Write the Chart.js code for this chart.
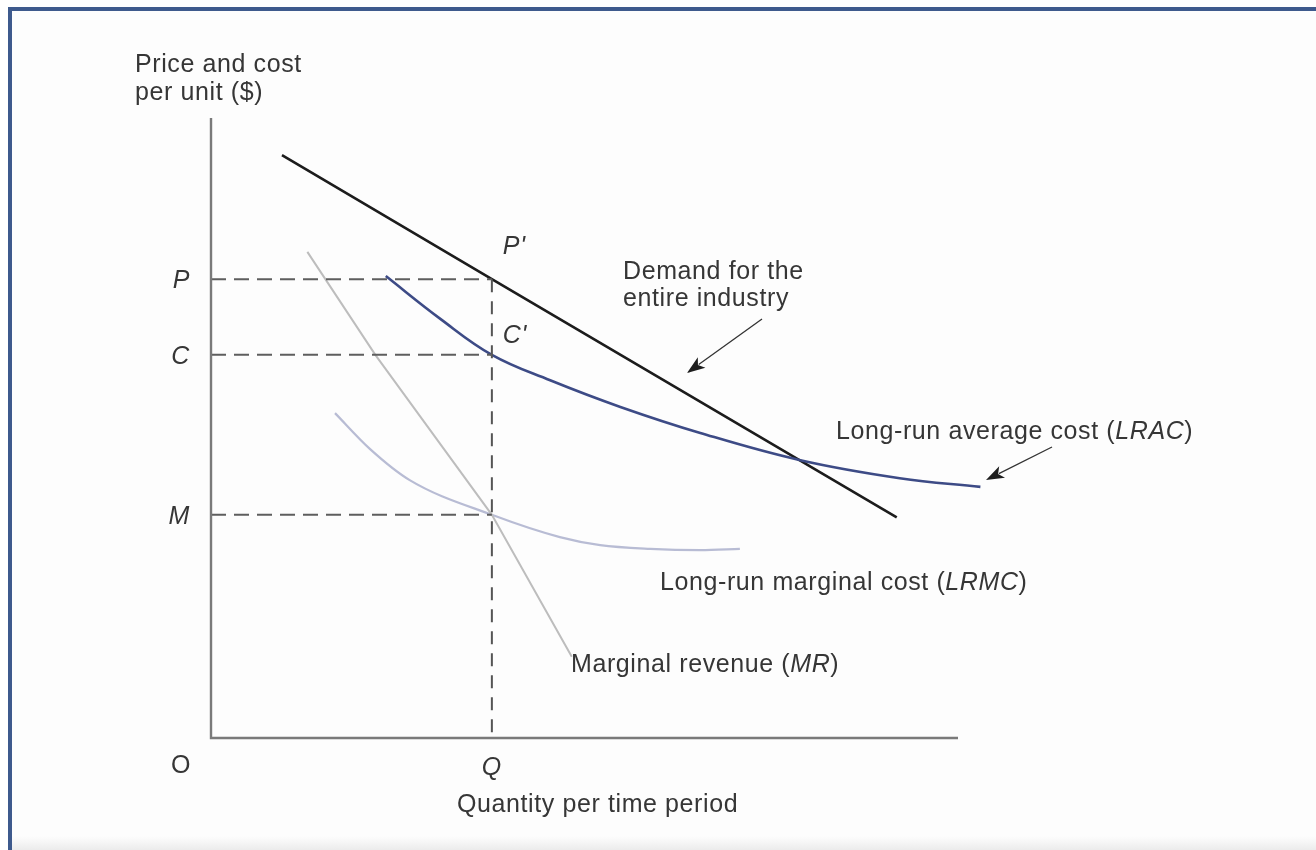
<!DOCTYPE html>
<html>
<head>
<meta charset="utf-8">
<script src="https://cdn.jsdelivr.net/npm/chart.js@4.4.1/dist/chart.umd.min.js"></script>
<style>
  html, body { margin: 0; padding: 0; background: #fff; }
  #wrap { width: 1316px; height: 850px; }
</style>
</head>
<body>
<div id="wrap"><canvas id="chart" width="1316" height="850"></canvas></div>
<script>
// quantity (x) and price / cost per unit (y), in chart units
const demandQ = [9.5, 37.6, 91.8];
const demandPrice = [94.0, 74.0, 35.6];
const lracQ = [23.4, 30.7, 37.6, 45.4, 54.8, 65.5, 78.9, 92.2, 103.0];
const lracCost = [74.5, 67.6, 61.8, 57.7, 53.4, 49.2, 44.8, 41.9, 40.5];
const lrmcQ = [16.6, 21.3, 26.6, 37.6, 46.7, 52.1, 58.8, 65.5, 70.8];
const lrmcCost = [52.4, 46.6, 41.6, 36.0, 32.4, 31.1, 30.5, 30.3, 30.5];
const mrQ = [12.9, 22.0, 37.6, 48.3];
const mrRevenue = [78.4, 61.8, 36.0, 13.1];

const outputQ = 37.6;
const levelNames = ['P', 'C', 'M'];
const levelValues = [74.0, 61.8, 36.0];
const axisEndQ = 100;

const FONT = '"Liberation Sans", Arial, Helvetica, sans-serif';
const TEXT = '#363636';

function points(xs, ys) {
    return xs.map((x, i) => ({ x: x, y: ys[i] }));
}

function curve(xs, ys, color, width, mode) {
    return {
        data: points(xs, ys),
        showLine: true,
        borderColor: color,
        borderWidth: width,
        pointRadius: 0,
        tension: mode ? 0.4 : 0,
        cubicInterpolationMode: mode || 'default',
        fill: false,
        clip: false
    };
}

function dashed(data, dash, color) {
    return {
        data: data,
        showLine: true,
        borderColor: color,
        borderWidth: 2,
        borderDash: dash,
        pointRadius: 0,
        fill: false,
        clip: false
    };
}

const datasets = [];
levelValues.forEach(v => {
    datasets.push(dashed([{ x: 0, y: v }, { x: outputQ, y: v }], [15, 8], '#5e5e5e'));
});
datasets.push(dashed([{ x: outputQ, y: levelValues[0] }, { x: outputQ, y: 0 }], [13, 9], '#555'));
datasets.push(curve(mrQ, mrRevenue, '#bdbdbd', 2, null));
datasets.push(curve(lrmcQ, lrmcCost, '#b8bcd4', 2.2, 'monotone'));
datasets.push(curve(lracQ, lracCost, '#3d4b86', 2.6, 'default'));
datasets.push(curve(demandQ, demandPrice, '#1c1c1c', 2.6, null));

// mixed upright / italic text on one baseline
function richText(ctx, parts, x, y) {
    let cx = x;
    parts.forEach(p => {
        ctx.font = (p[1] ? 'italic ' : '') + '25px ' + FONT;
        ctx.fillText(p[0], cx, y);
        cx += ctx.measureText(p[0]).width;
    });
}

function arrow(ctx, x1, y1, x2, y2) {
    const a = Math.atan2(y2 - y1, x2 - x1);
    const len = 18, half = 6.5;
    ctx.strokeStyle = '#333';
    ctx.lineWidth = 1.3;
    ctx.beginPath();
    ctx.moveTo(x1, y1);
    ctx.lineTo(x2 - Math.cos(a) * len * 0.8, y2 - Math.sin(a) * len * 0.8);
    ctx.stroke();
    ctx.fillStyle = '#1e1e1e';
    ctx.beginPath();
    ctx.moveTo(x2, y2);
    ctx.lineTo(x2 - Math.cos(a) * len + Math.sin(a) * half, y2 - Math.sin(a) * len - Math.cos(a) * half);
    ctx.lineTo(x2 - Math.cos(a) * len * 0.75, y2 - Math.sin(a) * len * 0.75);
    ctx.lineTo(x2 - Math.cos(a) * len - Math.sin(a) * half, y2 - Math.sin(a) * len + Math.cos(a) * half);
    ctx.closePath();
    ctx.fill();
}

const framePlugin = {
    id: 'frame',
    beforeDraw(chart) {
        const ctx = chart.ctx;
        ctx.save();
        ctx.fillStyle = '#ffffff';
        ctx.fillRect(0, 0, chart.width, chart.height);
        ctx.fillStyle = '#fdfdfd';
        ctx.fillRect(12, 11, chart.width - 12, chart.height - 11);
        const g = ctx.createLinearGradient(0, 836, 0, 850);
        g.addColorStop(0, 'rgba(238,238,238,0)');
        g.addColorStop(1, '#ebebeb');
        ctx.fillStyle = g;
        ctx.fillRect(12, 836, chart.width - 12, 14);
        ctx.fillStyle = '#3e5a8d';
        ctx.fillRect(8, 7, chart.width - 8, 4);
        ctx.fillRect(8, 7, 4, chart.height - 7);
        ctx.restore();
    }
};

const labelPlugin = {
    id: 'labels',
    afterDatasetsDraw(chart) {
        const ctx = chart.ctx;
        const xs = chart.scales.x, ys = chart.scales.y;
        const x0 = xs.getPixelForValue(0);
        const y0 = ys.getPixelForValue(0);
        const qx = xs.getPixelForValue(outputQ);

        ctx.save();
        // axes
        ctx.strokeStyle = '#7a7a7a';
        ctx.lineWidth = 2.4;
        ctx.beginPath();
        ctx.moveTo(x0, chart.chartArea.top);
        ctx.lineTo(x0, y0);
        ctx.lineTo(xs.getPixelForValue(axisEndQ), y0);
        ctx.stroke();

        ctx.fillStyle = TEXT;
        ctx.letterSpacing = '0.6px';
        ctx.textBaseline = 'alphabetic';

        // level labels on the price axis
        ctx.textAlign = 'right';
        ctx.font = 'italic 25px ' + FONT;
        levelNames.forEach((n, i) => {
            ctx.fillText(n, x0 - 21, ys.getPixelForValue(levelValues[i]) + 9);
        });

        ctx.textAlign = 'left';
        ctx.fillText("P'", qx + 11, ys.getPixelForValue(levelValues[0]) - 25);
        ctx.fillText("C'", qx + 11, ys.getPixelForValue(levelValues[1]) - 12);

        ctx.textAlign = 'center';
        ctx.fillText('Q', qx, y0 + 37);
        ctx.font = '25px ' + FONT;
        ctx.fillText('O', x0 - 30, y0 + 35);

        ctx.textAlign = 'left';
        ctx.fillText('Price and cost', 135, 72);
        ctx.fillText('per unit ($)', 135, 100);
        ctx.fillText('Quantity per time period', 457, 812);
        ctx.fillText('Demand for the', 623, 279);
        ctx.fillText('entire industry', 623, 306);

        richText(ctx, [['Long-run average cost (', false], ['LRAC', true], [')', false]], 836, 439);
        richText(ctx, [['Long-run marginal cost (', false], ['LRMC', true], [')', false]], 660, 590);
        richText(ctx, [['Marginal revenue (', false], ['MR', true], [')', false]], 571, 672);

        arrow(ctx, 762, 319, 687, 373);
        arrow(ctx, 1052, 447, 986, 480);
        ctx.restore();
    }
};

new Chart(document.getElementById('chart').getContext('2d'), {
    type: 'scatter',
    data: { datasets: datasets },
    options: {
        responsive: false,
        animation: false,
        devicePixelRatio: 1,
        layout: { padding: { left: 211, top: 118, right: 1316 - 211 - 140 * 7.47, bottom: 112 } },
        plugins: {
            legend: { display: false },
            tooltip: { enabled: false },
            title: { display: false }
        },
        scales: {
            x: { type: 'linear', min: 0, max: 140, display: false },
            y: { type: 'linear', min: 0, max: 100, display: false }
        }
    },
    plugins: [framePlugin, labelPlugin]
});
</script>
</body>
</html>
